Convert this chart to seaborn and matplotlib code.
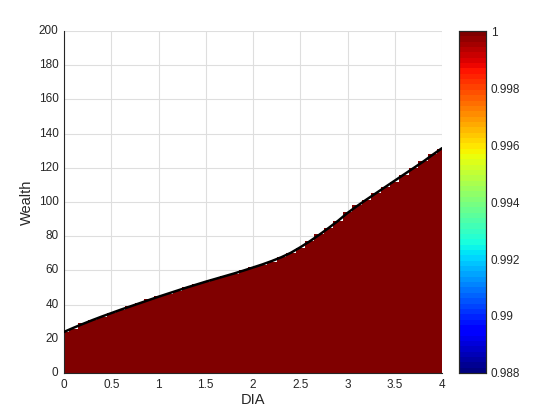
import numpy as np
import pandas as pd
from matplotlib import pyplot as plt
import seaborn as sns

# DIA grid and the wealth edge of the region
dia = np.round(np.arange(0, 4.01, 0.1), 1)
wealth_edge = [24.0, 26.4, 28.7, 30.9, 33.0, 35.0, 37.0, 38.9, 40.8, 42.7,
               44.6, 46.4, 48.2, 50.0, 51.7, 53.4, 55.0, 56.6, 58.2, 59.9,
               61.7, 63.5, 65.5, 67.7, 70.3, 73.5, 77.0, 80.8, 84.8, 89.0,
               93.6, 97.6, 101.4, 105.1, 108.8, 112.5, 116.2, 119.9, 123.6, 127.6,
               131.5]
wealth = np.arange(0, 200) + 0.5
x_ticks = [0, 0.5, 1, 1.5, 2, 2.5, 3, 3.5, 4]
y_ticks = list(range(0, 201, 20))
cbar_ticks = [0.988, 0.99, 0.992, 0.994, 0.996, 0.998, 1.0]

sns.set_style('white')
plt.rcParams['font.family'] = ['Liberation Sans', 'DejaVu Sans']
txt = '#262626'

# 1 below the edge, empty above
grid = np.where(wealth[:, None] < np.array(wealth_edge)[None, :], 1.0, np.nan)
df = pd.DataFrame(grid, index=wealth, columns=dia)

fig = plt.figure(figsize=(5.6, 4.2), dpi=100)
ax = fig.add_axes([0.1143, 0.112, 0.675, 0.814])
cax = fig.add_axes([0.8196, 0.112, 0.048, 0.814])

sns.heatmap(df, ax=ax, cmap=plt.get_cmap('jet', 64), vmin=0.988, vmax=1,
            cbar_ax=cax, cbar_kws={'ticks': cbar_ticks})
ax.invert_yaxis()

# black edge line on top
ax.plot(dia * 10 + 0.5, wealth_edge, color='black', lw=1.8, zorder=3)

ax.set_xlim(0.5, 40.5)
ax.set_ylim(0, 200)
ax.set_xticks([d * 10 + 0.5 for d in x_ticks])
ax.set_xticklabels(['0', '0.5', '1', '1.5', '2', '2.5', '3', '3.5', '4'], rotation=0)
ax.set_yticks(y_ticks)
ax.set_yticklabels([str(v) for v in y_ticks], rotation=0)
ax.grid(True, color='#dedede', lw=0.8)
ax.set_axisbelow(True)
for s in ['left', 'bottom']:
    ax.spines[s].set_visible(True)
    ax.spines[s].set_color(txt)
    ax.spines[s].set_linewidth(0.8)
ax.tick_params(direction='in', length=3, width=0.6, colors=txt, labelsize=8.5, pad=4)
ax.set_xlabel('DIA', fontsize=10.5, color=txt, labelpad=2)
ax.set_ylabel('Wealth', fontsize=10.5, color=txt, labelpad=3)

cax.set_yticklabels(['0.988', '0.99', '0.992', '0.994', '0.996', '0.998', '1'])
cax.tick_params(direction='in', length=3, width=0.6, colors=txt, labelsize=8.5)
for s in cax.spines.values():
    s.set_visible(True)
    s.set_color(txt)
    s.set_linewidth(0.8)

fig.savefig('out.png', dpi=100)
